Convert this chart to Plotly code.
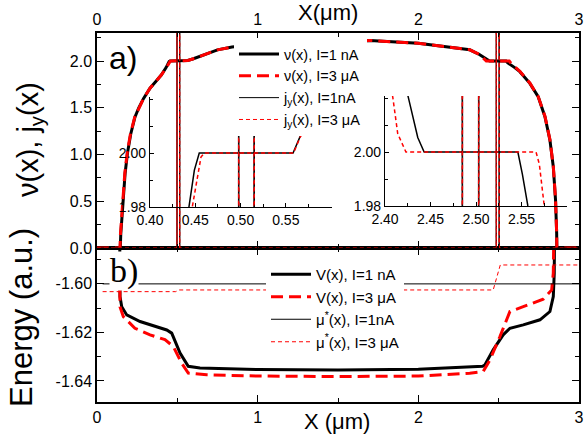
import plotly.graph_objects as go

# ---------------- data ----------------
# nu(x), I = 1 nA
nu_x_1nA = [0.0, 0.145, 0.148, 0.155, 0.165, 0.175, 0.19, 0.21, 0.236, 0.26, 0.29, 0.33, 0.37, 0.40, 0.43,
            0.443, 0.449, 0.4544, 0.558, 0.5656, 0.60, 0.64, 0.70, 0.75, 0.84, 1.0, 1.2, 1.4, 1.7, 2.0, 2.2,
            2.32, 2.38, 2.41, 2.4255, 2.436, 2.443, 2.546, 2.551, 2.557, 2.60, 2.632, 2.694, 2.746, 2.788,
            2.819, 2.84, 2.854, 2.861, 2.862, 3.0]
nu_1nA = [0, 0, 0.15, 0.35, 0.60, 0.80, 1.02, 1.22, 1.40, 1.50, 1.60, 1.71, 1.79, 1.85, 1.93,
          1.98, 1.9937, 2.0, 2.0, 2.006, 2.025, 2.05, 2.09, 2.12, 2.15, 2.18, 2.20, 2.21, 2.22, 2.19, 2.15,
          2.12, 2.07, 2.04, 2.0205, 2.0054, 2.0, 2.0, 1.9917, 1.98, 1.93, 1.886, 1.761, 1.618, 1.404,
          1.155, 0.87, 0.513, 0.157, 0, 0]
# nu(x), I = 3 uA
nu_x_3uA = [0.0, 0.143, 0.146, 0.153, 0.163, 0.173, 0.188, 0.208, 0.235, 0.26, 0.29, 0.33, 0.37, 0.40, 0.43,
            0.4467, 0.4563, 0.46, 0.5585, 0.566, 0.60, 0.64, 0.70, 0.75, 0.84, 1.0, 1.2, 1.4, 1.7, 2.0, 2.2,
            2.32, 2.38, 2.4085, 2.414, 2.423, 2.566, 2.5696, 2.575, 2.60, 2.632, 2.694, 2.746, 2.788,
            2.819, 2.84, 2.854, 2.861, 2.862, 3.0]
nu_3uA = [0, 0, 0.15, 0.35, 0.60, 0.80, 1.02, 1.22, 1.40, 1.50, 1.60, 1.71, 1.79, 1.85, 1.925,
          1.98, 1.9985, 2.0, 2.0, 2.006, 2.025, 2.05, 2.09, 2.12, 2.15, 2.18, 2.20, 2.21, 2.22, 2.19, 2.15,
          2.12, 2.07, 2.0205, 2.0068, 2.0, 2.0, 1.9955, 1.98, 1.94, 1.89, 1.765, 1.62, 1.41,
          1.16, 0.875, 0.52, 0.16, 0, 0]
# j_y(x): zero except narrow spikes at the incompressible-strip edges
jy_x = [0.0, 0.4975, 0.498, 0.4985, 0.5145, 0.515, 0.5155,
        2.4845, 2.485, 2.4855, 2.5025, 2.503, 2.5035, 3.0]
jy_1nA = [0, 0, 6, 0, 0, 6, 0, 0, 6, 0, 0, 6, 0, 0]
jy_3uA = [0, 0, 6, 0, 0, 6, 0, 0, 6, 0, 0, 6, 0, 0]

# V(x)
V_x_1nA = [0.140, 0.143, 0.154, 0.185, 0.268, 0.434, 0.465, 0.517, 0.568, 0.641, 1.0, 1.5, 2.0, 2.40,
           2.414, 2.466, 2.528, 2.57, 2.653, 2.757, 2.819, 2.84, 2.846, 2.85]
V_1nA = [-1.55, -1.6052, -1.6094, -1.6128, -1.6155, -1.619, -1.6203, -1.6285, -1.634, -1.6347, -1.6353,
         -1.6355, -1.6352, -1.634, -1.6334, -1.6272, -1.621, -1.6183, -1.6169, -1.6148, -1.6114, -1.6052,
         -1.5956, -1.55]
V_x_3uA = [0.140, 0.143, 0.164, 0.236, 0.33, 0.423, 0.475, 0.527, 0.568, 0.683, 1.0, 1.5, 2.0, 2.32,
           2.404, 2.446, 2.508, 2.57, 2.653, 2.777, 2.83, 2.84, 2.85]
V_3uA = [-1.55, -1.6094, -1.6135, -1.6183, -1.621, -1.623, -1.6258, -1.6327, -1.6368, -1.6375, -1.638,
         -1.6382, -1.638, -1.6368, -1.6361, -1.6313, -1.6217, -1.6114, -1.6094, -1.6063, -1.6025, -1.5956,
         -1.55]
# mu*(x)
mu_x_1nA = [0.035, 3.0]
mu_1nA = [-1.60, -1.60]
mu_x_3uA = [0.035, 0.49, 0.51, 2.466, 2.51, 3.0]
mu_3uA = [-1.6032, -1.6032, -1.6025, -1.6025, -1.5922, -1.5922]

# ticks
x_ticks = [0, 1, 2, 3]
x_ticktext = ["0", "1", "2", "3"]
nu_ticks = [0.0, 0.5, 1.0, 1.5, 2.0]
nu_ticktext = ["0.0", "0.5", "1.0", "1.5", "2.0"]
E_ticks = [-1.60, -1.62, -1.64]
E_ticktext = ["-1.60", "-1.62", "-1.64"]
in_y_ticks = [1.98, 2.00]
in_y_ticktext = ["1.98", "2.00"]
in1_x_ticks = [0.40, 0.45, 0.50, 0.55]
in1_x_ticktext = ["0.40", "0.45", "0.50", "0.55"]
in2_x_ticks = [2.40, 2.45, 2.50, 2.55]
in2_x_ticktext = ["2.40", "2.45", "2.50", "2.55"]

# ---------------- figure ----------------
BLACK = "black"
RED = "#ff0000"
THICK_DASH = "12px,6px"
THIN_DASH = "4px,3px"
FONT = "Arial, Liberation Sans, sans-serif"

W, H = 584, 441
ML, MR, MT, MB = 97, 5, 33, 39
PW, PH = W - ML - MR, H - MT - MB      # 482 x 369


def px(xp):
    return (xp - ML) / PW


def py(yp):
    return 1 - (yp - MT) / PH


fig = go.Figure()

# panel a
fig.add_trace(go.Scatter(x=nu_x_1nA, y=nu_1nA, mode="lines", name="ν(x), I=1 nA",
                         line=dict(color=BLACK, width=3), xaxis="x2", yaxis="y2", legend="legend",
                         legendgroup="a1"))
fig.add_trace(go.Scatter(x=nu_x_3uA, y=nu_3uA, mode="lines", name="ν(x), I=3 μA",
                         line=dict(color=RED, width=3, dash=THICK_DASH), xaxis="x2", yaxis="y2",
                         legend="legend", legendgroup="a2"))
fig.add_trace(go.Scatter(x=jy_x, y=jy_1nA, mode="lines", name="j<sub>y</sub>(x), I=1nA",
                         line=dict(color=BLACK, width=1), xaxis="x2", yaxis="y2", legend="legend",
                         legendgroup="a3"))
fig.add_trace(go.Scatter(x=jy_x, y=jy_3uA, mode="lines", name="j<sub>y</sub>(x), I=3 μA",
                         line=dict(color=RED, width=1, dash=THIN_DASH), xaxis="x2", yaxis="y2",
                         legend="legend", legendgroup="a4"))
# panel b
fig.add_trace(go.Scatter(x=V_x_1nA, y=V_1nA, mode="lines", name="V(x), I=1 nA",
                         line=dict(color=BLACK, width=3), xaxis="x", yaxis="y", legend="legend2",
                         legendgroup="b1"))
fig.add_trace(go.Scatter(x=V_x_3uA, y=V_3uA, mode="lines", name="V(x), I=3 μA",
                         line=dict(color=RED, width=3, dash=THICK_DASH), xaxis="x", yaxis="y",
                         legend="legend2", legendgroup="b2"))
fig.add_trace(go.Scatter(x=mu_x_1nA, y=mu_1nA, mode="lines", name="μ<sup>*</sup>(x), I=1nA",
                         line=dict(color=BLACK, width=1), xaxis="x", yaxis="y", legend="legend2",
                         legendgroup="b3"))
fig.add_trace(go.Scatter(x=mu_x_3uA, y=mu_3uA, mode="lines", name="μ<sup>*</sup>(x), I=3 μA",
                         line=dict(color=RED, width=1, dash=THIN_DASH), xaxis="x", yaxis="y",
                         legend="legend2", legendgroup="b4"))
# insets
for xa, ya in (("x3", "y3"), ("x4", "y4")):
    fig.add_trace(go.Scatter(x=nu_x_1nA, y=nu_1nA, mode="lines", showlegend=False,
                             line=dict(color=BLACK, width=1.5), xaxis=xa, yaxis=ya))
    fig.add_trace(go.Scatter(x=nu_x_3uA, y=nu_3uA, mode="lines", showlegend=False,
                             line=dict(color=RED, width=1.5, dash=THIN_DASH), xaxis=xa, yaxis=ya))
    fig.add_trace(go.Scatter(x=jy_x, y=jy_1nA, mode="lines", showlegend=False,
                             line=dict(color=BLACK, width=1), xaxis=xa, yaxis=ya))
    fig.add_trace(go.Scatter(x=jy_x, y=jy_3uA, mode="lines", showlegend=False,
                             line=dict(color=RED, width=1, dash=THIN_DASH), xaxis=xa, yaxis=ya))

split = py(248)


def main_axis(**kw):
    d = dict(showline=True, linecolor="black", linewidth=1.5, mirror="ticks", ticks="inside",
             ticklen=7, tickwidth=1.2, tickcolor="black", showgrid=False, zeroline=False,
             automargin=False, tickfont=dict(family=FONT, size=16, color="black"))
    d.update(kw)
    return d


def inset_axis(**kw):
    d = dict(showline=True, linecolor="black", linewidth=1.2, mirror=False, ticks="inside",
             ticklen=4, tickwidth=1, tickcolor="black", showgrid=False, zeroline=False,
             automargin=False, tickfont=dict(family=FONT, size=14, color="black"))
    d.update(kw)
    return d


def ann(text, x, y, size, family=FONT, **kw):
    d = dict(text=text, xref="paper", yref="paper", x=px(x), y=py(y), xanchor="center",
             yanchor="middle", showarrow=False, font=dict(family=family, size=size, color="black"))
    d.update(kw)
    return d


fig.update_layout(
    template="none",
    width=W, height=H, autosize=False,
    margin=dict(l=ML, r=MR, t=MT, b=MB, autoexpand=False),
    paper_bgcolor="white", plot_bgcolor="rgba(0,0,0,0)",
    font=dict(family=FONT, color="black"),
    xaxis=main_axis(domain=[0, 1], range=[0, 3], anchor="y", tickmode="array", tickvals=x_ticks,
                    ticktext=x_ticktext,
                    minor=dict(dtick=0.5, tick0=0, ticks="inside", ticklen=4, tickcolor="black")),
    yaxis=main_axis(domain=[0, split], range=[-1.6487, -1.5852], anchor="x", tickmode="array",
                    tickvals=E_ticks, ticktext=E_ticktext,
                    minor=dict(dtick=0.01, tick0=-1.60, ticks="inside", ticklen=4, tickcolor="black")),
    xaxis2=main_axis(domain=[0, 1], range=[0, 3], anchor="y2", side="top", tickmode="array",
                     tickvals=x_ticks, ticktext=x_ticktext,
                     minor=dict(dtick=0.5, tick0=0, ticks="inside", ticklen=4, tickcolor="black")),
    yaxis2=main_axis(domain=[split, 1], range=[0, 2.3], anchor="x2", tickmode="array",
                     tickvals=nu_ticks, ticktext=nu_ticktext,
                     minor=dict(dtick=0.25, tick0=0, ticks="inside", ticklen=4, tickcolor="black")),
    xaxis3=inset_axis(domain=[px(150), px(332)], range=[0.40, 0.601], anchor="y3",
                      tickmode="array", tickvals=in1_x_ticks, ticktext=in1_x_ticktext,
                      minor=dict(dtick=0.025, tick0=0.4, ticks="inside", ticklen=3, tickcolor="black")),
    yaxis3=inset_axis(domain=[py(207), py(97)], range=[1.98, 2.0208], anchor="x3",
                      tickmode="array", tickvals=in_y_ticks, ticktext=in_y_ticktext,
                      minor=dict(dtick=0.01, tick0=1.98, ticks="inside", ticklen=3, tickcolor="black")),
    xaxis4=inset_axis(domain=[px(385), px(567)], range=[2.40, 2.60], anchor="y4",
                      tickmode="array", tickvals=in2_x_ticks, ticktext=in2_x_ticktext,
                      minor=dict(dtick=0.025, tick0=2.4, ticks="inside", ticklen=3, tickcolor="black")),
    yaxis4=inset_axis(domain=[py(206), py(96)], range=[1.98, 2.0208], anchor="x4",
                      tickmode="array", tickvals=in_y_ticks, ticktext=in_y_ticktext,
                      minor=dict(dtick=0.01, tick0=1.98, ticks="inside", ticklen=3, tickcolor="black")),
    legend=dict(x=px(234), y=py(38), xanchor="left", yanchor="top",
                bgcolor="white", borderwidth=0, font=dict(family=FONT, size=14.5, color="black"),
                tracegroupgap=0, itemwidth=40),
    legend2=dict(x=px(266), y=py(258), xanchor="left", yanchor="top",
                 bgcolor="white", borderwidth=0, font=dict(family=FONT, size=15, color="black"),
                 tracegroupgap=0, itemwidth=40),
    annotations=[
        ann("a)", 123, 58, 32),
        ann("b)", 124, 271, 34, family="Liberation Serif, Times New Roman, serif",
            bgcolor="white", borderpad=0),
        ann("X(μm)", 328, 13, 22),
        ann("X (μm)", 337, 421, 22),
        ann("ν(x), j<sub>y</sub>(x)", 30, 140, 29, textangle=-90),
        ann("Energy (a.u.)", 21, 318, 31, textangle=-90),
    ],
)

# the page body's default 8 px margin would shift the figure; remove it
fig.write_html("out.html", config={"displayModeBar": False},
               post_script="document.body.style.margin='0px';")
